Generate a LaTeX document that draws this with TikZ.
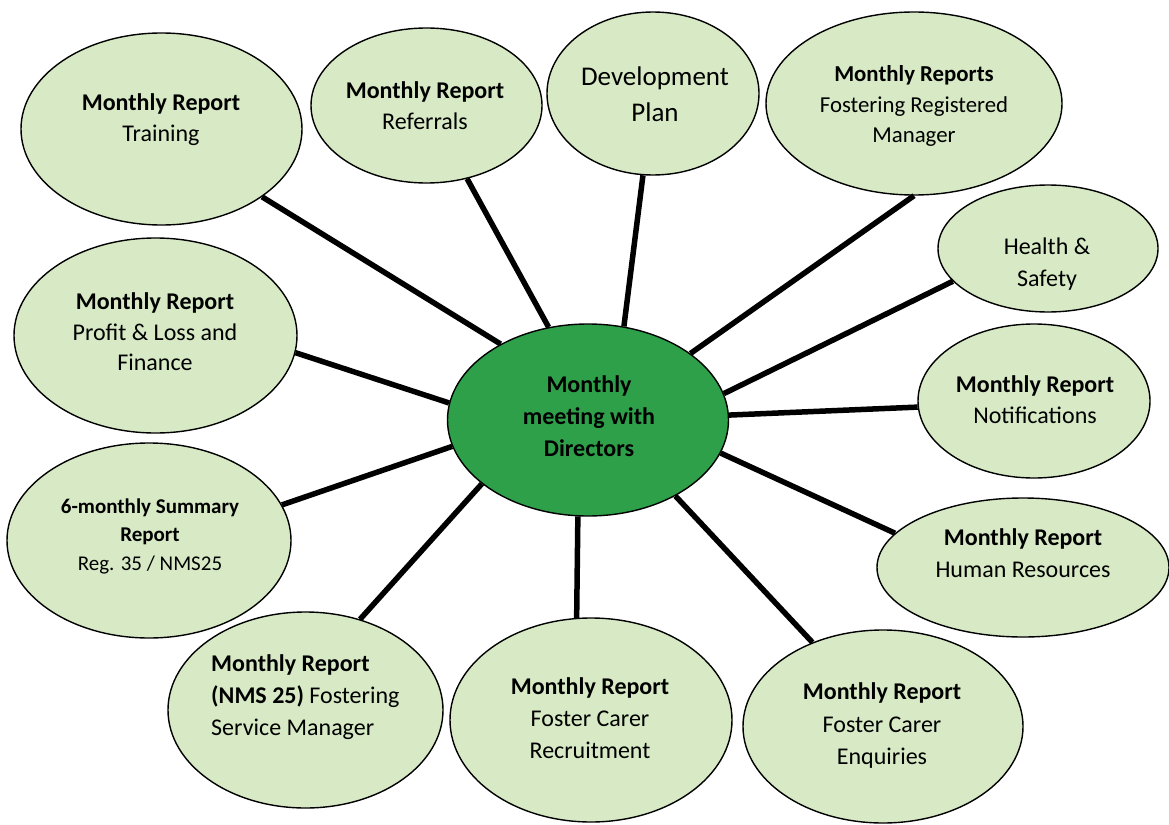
\documentclass[tikz,border=0pt]{standalone}
\usepackage{fontspec}
\setmainfont{Carlito}
\usetikzlibrary{shapes.geometric,positioning}
\definecolor{bubblefill}{RGB}{215,234,197}
\definecolor{hubfill}{RGB}{46,160,74}
\tikzset{bubble/.style={ellipse,draw=black,line width=1.4pt,fill=bubblefill,inner sep=0pt}}
\tikzset{hub/.style={ellipse,draw=black,line width=1.4pt,fill=hubfill,inner sep=0pt}}
\tikzset{bubbletext/.style={align=center,inner sep=0pt,font=\fontsize{24}{31}\selectfont}}
\tikzset{spoke/.style={line width=5.5pt,black}}

\begin{document}
\begin{tikzpicture}[x=1pt,y=-1pt]
    \useasboundingbox (0,0) rectangle (1169,824);
    % hub
    \node[hub,minimum width=281pt,minimum height=192pt] at (588,420) (meet) {};
    \node[bubbletext,font=\bfseries\fontsize{24}{32}\selectfont] at (589,416) (meet text) {Monthly\\meeting with\\Directors};
    % the bubbles round it
    \node[bubble,minimum width=281pt,minimum height=192pt] at (161.5,129) (train) {};
    \node[bubbletext] at (161,120) (train text) {\textbf{Monthly Report}\\Training};
    \node[bubble,minimum width=231pt,minimum height=155pt] at (426.5,105.5) (refer) {};
    \node[bubbletext] at (425,106) (refer text) {\textbf{Monthly Report}\\Referrals};
    \node[bubble,minimum width=212pt,minimum height=163pt] at (653,93.5) (devplan) {};
    \node[bubbletext,font=\fontsize{27}{36}\selectfont] at (655,94) (devplan text) {Development\\Plan};
    \node[bubble,minimum width=296pt,minimum height=183pt] at (914,103.5) (regman) {};
    \node[bubbletext,font=\fontsize{22.8}{30.5}\selectfont] at (914,106) (regman text) {\textbf{Monthly Reports}\\Fostering Registered\\Manager};
    \node[bubble,minimum width=220pt,minimum height=127pt] at (1048,248.5) (safety) {};
    \node[bubbletext,font=\fontsize{24}{32}\selectfont] at (1047,264) (safety text) {Health \&\\Safety};
    \node[bubble,minimum width=232pt,minimum height=154pt] at (1034,401) (notif) {};
    \node[bubbletext] at (1035,400) (notif text) {\textbf{Monthly Report}\\Notifications};
    \node[bubble,minimum width=292pt,minimum height=139pt] at (1023,567.5) (hr) {};
    \node[bubbletext,font=\fontsize{24}{32}\selectfont] at (1023,553) (hr text) {\textbf{Monthly Report}\\Human Resources};
    \node[bubble,minimum width=280pt,minimum height=193pt] at (883,726.5) (enquiry) {};
    \node[bubbletext,font=\fontsize{24}{32.5}\selectfont] at (882,726) (enquiry text) {\textbf{Monthly Report}\\Foster Carer\\Enquiries};
    \node[bubble,minimum width=282pt,minimum height=204pt] at (591,720) (recruit) {};
    \node[bubbletext,font=\fontsize{24}{32}\selectfont] at (590,718) (recruit text) {\textbf{Monthly Report}\\Foster Carer\\Recruitment};
    \node[bubble,minimum width=275pt,minimum height=196pt] at (305.5,710) (servman) {};
    \node[bubbletext,align=left,anchor=west,font=\fontsize{24}{32}\selectfont] at (211,697) (servman text) {\textbf{Monthly Report}\\\textbf{(NMS 25)} Fostering\\Service Manager};
    \node[bubble,minimum width=284pt,minimum height=195pt] at (149,540.5) (summary) {};
    \node[bubbletext,font=\fontsize{21}{28.5}\selectfont] at (150,536) (summary text) {\textbf{6-monthly Summary}\\\textbf{Report}\\Reg. 35 / NMS25};
    \node[bubble,minimum width=283pt,minimum height=195pt] at (155.5,335.5) (finance) {};
    \node[bubbletext,font=\fontsize{24}{30.5}\selectfont] at (155,332) (finance text) {\textbf{Monthly Report}\\Profit \& Loss and\\Finance};
    % spokes
    \draw[spoke] (meet.139) -- (train.-34);
    \draw[spoke] (meet.113) -- (refer.-61.5);
    \draw[spoke] (meet.69) -- (devplan.-97.7);
    \draw[spoke] (meet.33) -- (regman.-90.6);
    \draw[spoke] (meet.11.4) -- (safety.-161);
    \draw[spoke] (meet.2) -- (notif.183);
    \draw[spoke] (meet.-14.6) -- (hr.165);
    \draw[spoke] (meet.-41) -- (enquiry.130);
    \draw[spoke] (meet.-96) -- (recruit.98);
    \draw[spoke] (meet.-149) -- (servman.59);
    \draw[spoke] (meet.-169) -- (summary.15.4);
    \draw[spoke] (meet.173.5) -- (finance.-7.1);
\end{tikzpicture}
\end{document}
